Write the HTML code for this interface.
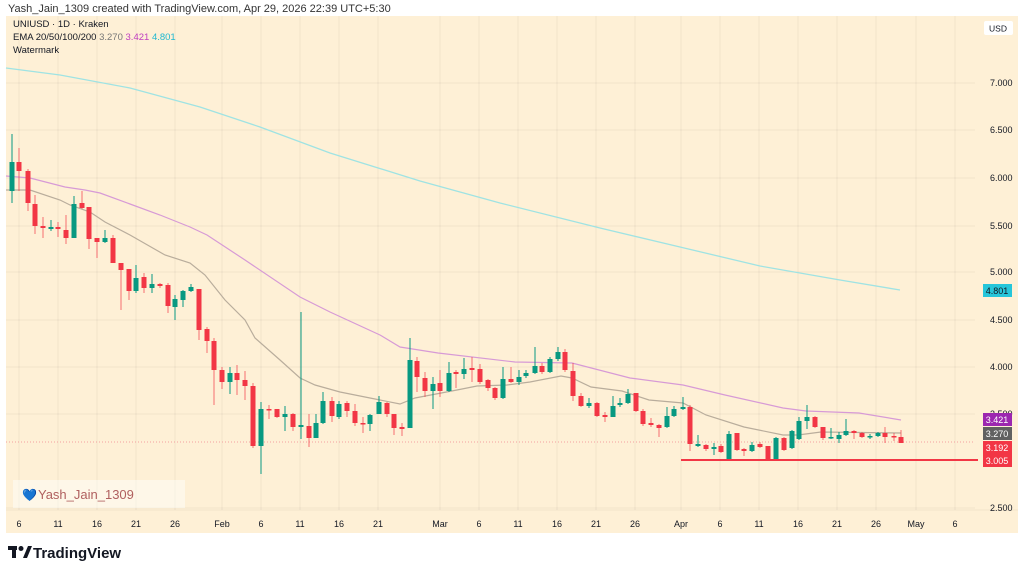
<!DOCTYPE html>
<html><head><meta charset="utf-8"><style>
body{margin:0;width:1024px;height:574px;background:#fff;font-family:"Liberation Sans",sans-serif;overflow:hidden;position:relative}
.t{position:absolute;font-size:10.5px;color:#131722;white-space:nowrap}
</style></head><body>
<div class="t" style="left:8px;top:3px;font-size:11px;color:#333">Yash_Jain_1309 created with TradingView.com, Apr 29, 2026 22:39 UTC+5:30</div>
<svg id="s" width="1024" height="574" style="position:absolute;left:0;top:0" xmlns="http://www.w3.org/2000/svg">
<rect x="6" y="16" width="1012" height="517" fill="#fef0d6"/>
<g id="grid" stroke="#000" stroke-opacity="0.05" stroke-width="1"></g>
<rect x="13" y="480" width="172" height="28" fill="#fff" fill-opacity="0.45"/>
<polyline fill="none" stroke="#9fe3e3" stroke-width="1.3" points="6,68 60,75 130,88 200,107 260,127 330,153 420,181 500,203 600,228 680,247 760,266 840,280 900,290"/>
<polyline fill="none" stroke="#d79ad6" stroke-width="1.2" points="6,176 30,178 65,187 85,190 100,193 130,204 160,215 190,227 207,235 245,260 300,297 330,312 380,335 400,347 438,353 515,362 572,363 630,378 683,385 725,395 783,408 806,411 859,413 901,420"/>
<polyline fill="none" stroke="#b9ad9c" stroke-width="1.2" points="6,190 30,190 60,200 70,205 90,212 105,222 130,235 165,255 190,263 205,275 225,300 245,320 255,338 280,360 300,378 315,385 340,392 370,398 400,404 415,398 457,390 477,386 507,385 530,382 561,376 572,378 591,387 622,391 649,400 683,403 706,415 744,427 783,435 798,435 821,432 901,433"/>
<line x1="6" y1="442" x2="975" y2="442" stroke="#f4a0a0" stroke-width="1" stroke-dasharray="1,2"/>
<g id="c"></g>
<line x1="681" y1="460" x2="978" y2="460" stroke="#f23645" stroke-width="2"/>
<rect x="984" y="21" width="29" height="14" fill="#fff" rx="2"/>
<text x="998" y="31.5" font-size="8.5" text-anchor="middle" fill="#131722" font-family="Liberation Sans">USD</text>
<g id="ax" font-family="Liberation Sans" font-size="9" fill="#131722"></g>
<g font-family="Liberation Sans" font-size="9" fill="#fff" text-anchor="middle">
<rect x="983" y="284" width="29" height="13" fill="#26c6da"/><text x="997" y="294" fill="#131722">4.801</text>
<rect x="983" y="413" width="29" height="13" fill="#9c27b0"/><text x="997" y="423">3.421</text>
<rect x="983" y="427" width="29" height="13" fill="#616161"/><text x="997" y="437">3.270</text>
<rect x="983" y="441" width="29" height="13" fill="#f23645"/><text x="997" y="451">3.192</text>
<rect x="983" y="454" width="29" height="13" fill="#f23645"/><text x="997" y="464">3.005</text>
</g>
<text x="22" y="499" font-size="12" fill="#e04040">💙</text>
<text x="38" y="499" font-size="13" fill="#b0605f" font-family="Liberation Sans">Yash_Jain_1309</text>
<g transform="translate(8,546)" fill="#131722">
<rect x="0" y="0" width="9" height="4"/><rect x="4" y="0" width="4" height="12"/><circle cx="13" cy="2.5" r="2.5"/><polygon points="15,12 20,0 24,0 19,12"/>
</g>
<text x="33" y="558" font-size="15" font-weight="bold" fill="#131722" font-family="Liberation Sans">TradingView</text>
</svg>
<div class="t" style="left:13px;top:19px;font-size:9.5px">UNIUSD · 1D · Kraken</div>
<div class="t" style="left:13px;top:32px;font-size:9.5px">EMA 20/50/100/200 <span style="color:#777">3.270</span> <span style="color:#c040c0">3.421</span> <span style="color:#20b8d0">4.801</span></div>
<div class="t" style="left:13px;top:45px;font-size:9.5px">Watermark</div>
<script>
var NS="http://www.w3.org/2000/svg";
function el(p,t,a){var e=document.createElementNS(NS,t);for(var k in a)e.setAttribute(k,a[k]);p.appendChild(e);return e;}
var g=document.getElementById('grid'),ax=document.getElementById('ax');
var xt=[[19,'6'],[58,'11'],[97,'16'],[136,'21'],[175,'26'],[222,'Feb'],[261,'6'],[300,'11'],[339,'16'],[378,'21'],[440,'Mar'],[479,'6'],[518,'11'],[557,'16'],[596,'21'],[635,'26'],[681,'Apr'],[720,'6'],[759,'11'],[798,'16'],[837,'21'],[876,'26'],[916,'May'],[955,'6']];
xt.forEach(function(t){el(g,'line',{x1:t[0],y1:16,x2:t[0],y2:510});var e=el(ax,'text',{x:t[0],y:527,'text-anchor':'middle'});e.textContent=t[1];});
var yt=[[83,'7.000'],[130,'6.500'],[178,'6.000'],[226,'5.500'],[272,'5.000'],[320,'4.500'],[367,'4.000'],[414,'3.500'],[508,'2.500']];
yt.forEach(function(t){el(g,'line',{x1:6,y1:t[0],x2:975,y2:t[0]});var e=el(ax,'text',{x:990,y:t[0]+3});e.textContent=t[1];});
el(g,'line',{x1:6,y1:510,x2:1018,y2:510});
var C=[[12,162,191,134,203,1],[19,162,171,148,191,0],[28,171,203,169,211,0],[35,204,226,195,234,0],[43,226,228,217,238,0],[51,227,229,220,231,1],[58,227,229,222,237,0],[66,230,238,215,244,0],[74,204,238,196,238,1],[82,203,208,191,209,0],[89,207,239,207,249,0],[97,238,242,238,258,0],[105,238,242,230,243,1],[113,238,263,235,263,0],[121,263,270,263,310,0],[129,269,291,269,300,0],[136,278,291,265,293,1],[144,277,288,273,293,0],[152,284,288,274,293,1],[160,284,286,283,288,0],[168,285,306,283,313,0],[175,299,307,295,320,1],[183,291,300,290,307,1],[191,287,291,284,292,1],[199,289,330,289,340,0],[207,329,341,327,353,0],[214,341,370,338,405,0],[222,370,382,367,389,0],[230,373,382,367,394,1],[237,373,380,365,395,0],[245,380,386,371,400,0],[253,386,446,383,448,0],[261,409,446,402,474,1],[269,409,410,405,419,0],[277,409,417,409,418,0],[285,414,417,406,431,1],[293,414,427,413,431,0],[301,425,427,312,439,1],[309,426,438,414,447,0],[316,423,438,414,438,1],[323,401,423,392,424,1],[332,401,416,397,422,0],[339,404,417,401,419,1],[347,403,411,401,417,0],[355,411,423,404,426,0],[363,423,424,417,433,0],[370,415,424,414,431,1],[379,402,414,396,414,1],[387,403,414,402,417,0],[394,414,428,414,435,0],[402,427,429,423,436,0],[410,360,428,338,428,1],[417,361,377,357,392,0],[425,378,391,372,397,0],[433,384,391,377,409,1],[440,383,391,370,397,0],[449,373,391,362,392,1],[456,372,374,370,388,0],[464,369,374,358,379,1],[472,368,370,357,382,0],[480,369,382,364,384,0],[488,380,388,379,391,0],[495,388,398,387,400,0],[503,379,398,367,399,1],[511,379,382,367,383,0],[519,377,382,370,385,1],[526,373,376,370,378,1],[535,366,373,347,374,1],[542,366,372,363,374,0],[550,359,372,357,373,1],[558,352,359,347,361,1],[565,352,370,349,372,0],[573,371,396,363,401,0],[581,396,406,393,407,0],[589,403,406,398,408,1],[597,403,416,402,417,0],[605,415,417,412,422,0],[613,406,417,396,417,1],[620,403,405,398,407,1],[628,394,403,389,404,1],[636,393,411,393,412,0],[643,411,424,409,426,0],[651,423,425,418,427,0],[659,425,428,424,437,0],[667,416,427,407,428,1],[674,409,416,406,417,1],[683,407,409,397,410,1],[690,407,444,405,451,0],[698,444,446,435,447,1],[706,445,449,444,451,0],[714,447,449,443,455,1],[721,446,452,444,453,0],[729,434,460,431,460,1],[737,433,450,433,451,0],[744,449,451,448,456,0],[752,445,451,442,452,1],[760,444,447,442,448,0],[768,446,460,446,460,0],[776,438,460,437,460,1],[784,438,450,437,451,0],[792,431,448,430,449,1],[799,421,439,417,440,1],[807,417,421,405,429,1],[815,417,427,416,428,0],[823,427,438,427,440,0],[831,437,438,428,439,1],[839,435,439,432,443,1],[846,431,435,419,436,1],[854,431,433,430,439,0],[862,433,437,432,438,0],[870,436,437,434,439,1],[878,433,436,432,437,1],[885,433,437,427,443,0],[894,436,437,433,441,0],[901,437,443,430,443,0]];
var cg=document.getElementById('c');
C.forEach(function(k){var col=k[5]?'#089981':'#f23645';el(cg,'line',{x1:k[0],y1:k[3],x2:k[0],y2:k[4],stroke:col,'stroke-width':1,'stroke-opacity':k[5]?1:0.7});el(cg,'rect',{x:k[0]-2.5,y:k[1],width:5,height:Math.max(1.5,k[2]-k[1]),fill:col});});
</script>
</body></html>
